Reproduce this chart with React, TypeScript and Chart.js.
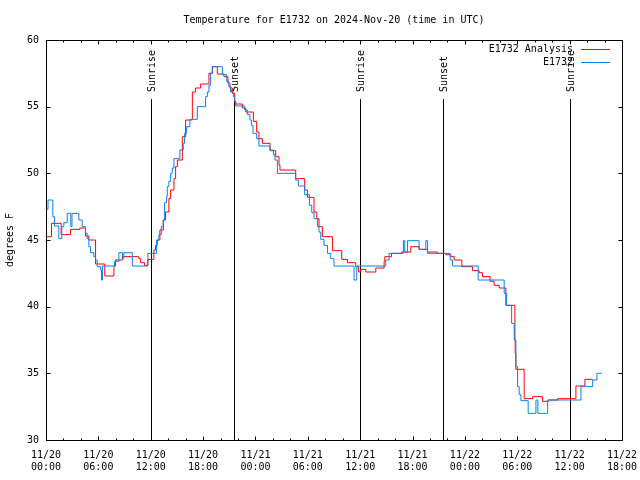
import React, { useEffect, useRef } from 'react';
import { Chart, registerables } from 'chart.js';

Chart.register(...registerables);

const TITLE = 'Temperature for E1732 on 2024-Nov-20 (time in UTC)';
const Y_TITLE = 'degrees F';
const SERIES_ANALYSIS = 'E1732 Analysis';
const SERIES_OBS = 'E1732';

// x tick labels (hours since 11/20 00:00 UTC, every 6 h)
const xTickDays = ['11/20', '11/20', '11/20', '11/20', '11/21', '11/21', '11/21', '11/21', '11/22', '11/22', '11/22', '11/22'];
const xTickTimes = ['00:00', '06:00', '12:00', '18:00', '00:00', '06:00', '12:00', '18:00', '00:00', '06:00', '12:00', '18:00'];
const yTicks = [30, 35, 40, 45, 50, 55, 60];

// sunrise / sunset markers (hours since 11/20 00:00 UTC)
const sunHours = [12.06, 21.54, 35.99, 45.47, 60.03];
const sunLabels = ['Sunrise', 'Sunset', 'Sunrise', 'Sunset', 'Sunrise'];

// Observations (E1732) — step start hour and temperature (F)
const obsHours = [0.06, 0.23, 0.78, 0.97, 1.47, 1.81, 2.04, 2.43, 2.84, 2.98, 3.76, 4.15, 4.53, 4.72, 4.91, 5.10, 5.48, 5.68, 5.87, 6.25, 6.36, 6.48, 7.86, 8.35, 8.77, 8.92, 9.89, 11.67, 12.67, 12.94, 13.21, 13.44, 13.59, 13.82, 13.90, 14.08, 14.28, 14.47, 14.66, 15.34, 15.73, 15.88, 16.11, 16.49, 17.34, 18.29, 18.49, 18.67, 18.86, 19.06, 20.21, 20.70, 20.96, 21.16, 21.47, 21.62, 21.73, 22.76, 23.07, 23.37, 23.53, 23.72, 24.14, 24.40, 25.67, 26.06, 26.24, 26.51, 28.61, 28.92, 29.64, 30.18, 30.45, 30.71, 31.10, 31.28, 31.48, 31.86, 32.25, 32.63, 33.00, 35.30, 35.61, 38.93, 39.31, 40.96, 41.11, 41.42, 42.75, 43.52, 43.72, 46.31, 46.58, 49.52, 52.50, 52.78, 53.35, 53.65, 53.84, 54.04, 54.22, 54.42, 55.25, 56.14, 56.36, 57.48, 61.30, 62.64, 63.13, 63.67];
const obsTemps = [47.3, 48.0, 46.75, 46.05, 45.1, 46.0, 46.3, 47.0, 46.0, 47.0, 46.5, 46.0, 45.5, 45.1, 44.5, 44.05, 43.75, 43.5, 43.0, 42.75, 42.0, 43.05, 43.4, 44.05, 43.6, 44.05, 43.05, 44.0, 45.0, 45.4, 46.0, 46.5, 47.8, 48.25, 49.0, 49.4, 50.0, 50.4, 51.1, 51.75, 52.25, 53.0, 53.5, 54.05, 55.0, 55.75, 56.1, 56.6, 57.5, 58.0, 57.4, 56.9, 56.5, 56.1, 55.75, 55.4, 55.05, 54.75, 54.4, 54.0, 53.6, 53.0, 52.6, 52.05, 51.75, 51.4, 51.0, 50.0, 49.5, 49.05, 48.4, 47.6, 47.05, 46.6, 46.0, 45.6, 45.05, 44.6, 44.0, 43.6, 43.05, 42.0, 43.05, 43.5, 44.0, 44.95, 44.1, 44.95, 44.3, 44.95, 44.0, 43.5, 43.05, 42.0, 41.0, 40.1, 38.75, 37.5, 35.5, 34.0, 33.4, 32.95, 32.0, 33.0, 32.0, 33.0, 34.0, 34.5, 35.0, 35.0];

// Analysis (E1732 Analysis) — step start hour and temperature (F)
const anaHours = [0.0, 0.63, 1.74, 2.81, 3.88, 4.53, 4.91, 5.68, 6.74, 7.78, 7.97, 8.74, 10.64, 10.84, 11.30, 11.67, 12.36, 12.56, 12.75, 13.05, 13.44, 13.70, 14.08, 14.28, 14.66, 14.85, 15.05, 15.62, 16.00, 16.77, 17.14, 17.72, 18.67, 19.06, 19.63, 20.39, 20.85, 21.08, 21.35, 21.62, 21.73, 22.50, 22.88, 23.76, 24.14, 24.40, 24.79, 25.67, 26.32, 26.70, 26.81, 28.61, 29.64, 29.95, 30.71, 31.02, 31.28, 31.67, 32.82, 33.89, 34.54, 35.49, 35.80, 36.07, 36.64, 37.79, 38.74, 38.82, 39.59, 40.73, 41.80, 42.75, 43.72, 44.86, 45.81, 46.39, 46.77, 47.65, 48.88, 49.63, 50.02, 50.89, 51.35, 51.93, 52.69, 53.73, 53.76, 53.84, 54.79, 55.76, 56.90, 57.55, 58.62, 60.72, 61.75, 62.64];
const anaTemps = [45.25, 46.25, 45.4, 45.8, 45.9, 45.3, 45.0, 43.2, 42.3, 43.05, 43.5, 43.75, 43.6, 43.3, 43.1, 43.55, 44.25, 44.6, 45.0, 45.75, 46.5, 47.1, 48.1, 48.75, 49.6, 50.5, 51.0, 52.75, 54.0, 56.1, 56.4, 56.7, 57.5, 58.0, 57.45, 57.25, 56.75, 56.4, 56.0, 55.4, 55.2, 54.9, 54.6, 53.9, 53.1, 52.6, 52.25, 51.7, 51.25, 50.6, 50.25, 49.6, 48.75, 48.2, 47.1, 46.6, 46.0, 45.25, 44.2, 43.55, 43.3, 43.0, 42.6, 42.8, 42.6, 42.9, 43.4, 43.75, 44.0, 44.1, 44.5, 44.3, 44.1, 44.0, 43.9, 43.75, 43.5, 43.0, 42.7, 42.55, 42.25, 41.9, 41.6, 41.4, 40.1, 37.6, 36.5, 35.3, 33.1, 33.25, 32.9, 33.0, 33.1, 34.05, 34.55, 34.55];

const RED = '#ff0000';
const BLUE = '#0a80f0';
const FONT = "'DejaVu Sans Mono', 'Liberation Mono', monospace";

const overlay = {
  id: 'gnuplotOverlay',
  beforeDatasetsDraw(chart: any) {
    const { ctx, chartArea: a, scales } = chart;
    const xs = scales.x;
    const ys = scales.y;
    ctx.save();
    ctx.strokeStyle = '#000';
    ctx.fillStyle = '#000';
    ctx.lineWidth = 1;
    const L = Math.round(a.left) + 0.5;
    const R = Math.round(a.right) + 0.5;
    const T = Math.round(a.top) + 0.5;
    const B = Math.round(a.bottom) + 0.5;

    // x ticks: major every 6 h, minor every 2 h (bottom and top, inward)
    for (let h = 0; h <= 66; h += 2) {
      const px = Math.round(xs.getPixelForValue(h)) + 0.5;
      const len = h % 6 === 0 ? 4 : 2;
      ctx.beginPath();
      ctx.moveTo(px, B); ctx.lineTo(px, B - len);
      ctx.moveTo(px, T); ctx.lineTo(px, T + len);
      ctx.stroke();
    }
    // y ticks (left and right, inward)
    yTicks.forEach((v) => {
      const py = Math.round(ys.getPixelForValue(v)) + 0.5;
      ctx.beginPath();
      ctx.moveTo(L, py); ctx.lineTo(L + 4, py);
      ctx.moveTo(R, py); ctx.lineTo(R - 4, py);
      ctx.stroke();
    });

    // sunrise / sunset lines and labels
    ctx.font = `10px ${FONT}`;
    sunHours.forEach((h, i) => {
      const px = Math.round(xs.getPixelForValue(h)) + 0.5;
      ctx.beginPath();
      ctx.moveTo(px, a.top + 59);
      ctx.lineTo(px, B);
      ctx.stroke();
      ctx.save();
      ctx.translate(px + 1, a.top + 52);
      ctx.rotate(-Math.PI / 2);
      ctx.textAlign = 'left';
      ctx.textBaseline = 'middle';
      ctx.fillText(sunLabels[i], 0, 0);
      ctx.restore();
    });

    // border
    ctx.strokeRect(L, T, R - L, B - T);

    // title
    ctx.textAlign = 'center';
    ctx.textBaseline = 'middle';
    ctx.fillText(TITLE, (a.left + a.right) / 2, 20);

    // y axis title
    ctx.save();
    ctx.translate(10, (a.top + a.bottom) / 2);
    ctx.rotate(-Math.PI / 2);
    ctx.textAlign = 'center';
    ctx.textBaseline = 'middle';
    ctx.fillText(Y_TITLE, 0, 0);
    ctx.restore();

    // legend
    ctx.textAlign = 'right';
    ctx.textBaseline = 'middle';
    const lx = a.right - 49;
    ctx.fillText(SERIES_ANALYSIS, lx, a.top + 9);
    ctx.fillText(SERIES_OBS, lx, a.top + 22);
    ctx.beginPath();
    ctx.strokeStyle = RED;
    ctx.moveTo(lx + 8, Math.round(a.top + 9) + 0.5);
    ctx.lineTo(lx + 37, Math.round(a.top + 9) + 0.5);
    ctx.stroke();
    ctx.beginPath();
    ctx.strokeStyle = BLUE;
    ctx.moveTo(lx + 8, Math.round(a.top + 22) + 0.5);
    ctx.lineTo(lx + 37, Math.round(a.top + 22) + 0.5);
    ctx.stroke();
    ctx.restore();
  },
};

export default function App() {
  const ref = useRef<HTMLCanvasElement | null>(null);
  useEffect(() => {
    if (!ref.current) return;
    const chart = new Chart(ref.current, {
      type: 'line',
      data: {
        datasets: [
          {
            label: SERIES_OBS,
            data: obsHours.map((h, i) => ({ x: h, y: obsTemps[i] })),
            borderColor: BLUE,
            borderWidth: 1,
            pointRadius: 0,
            stepped: 'before',
            fill: false,
            order: 0,
          },
          {
            label: SERIES_ANALYSIS,
            data: anaHours.map((h, i) => ({ x: h, y: anaTemps[i] })),
            borderColor: RED,
            borderWidth: 1,
            pointRadius: 0,
            stepped: 'before',
            fill: false,
            order: 1,
          },
        ],
      },
      options: {
        animation: false,
        responsive: false,
        devicePixelRatio: 1,
        layout: { padding: { top: 40, right: 18, left: 0, bottom: 0 } },
        plugins: {
          legend: { display: false },
          title: { display: false },
          tooltip: { enabled: false },
        },
        scales: {
          x: {
            type: 'linear',
            min: 0,
            max: 66,
            grid: { display: false, drawTicks: false },
            border: { display: false },
            afterFit: (s: any) => { s.height = 40; s.paddingLeft = 0; s.paddingRight = 0; },
            afterBuildTicks: (s: any) => {
              s.ticks = xTickDays.map((_, i) => ({ value: i * 6 }));
            },
            ticks: {
              autoSkip: false,
              maxRotation: 0,
              padding: 9,
              color: '#000',
              font: { family: FONT, size: 10, lineHeight: 1.2 },
              callback: (v: any) => {
                const i = Math.round(Number(v) / 6);
                return [xTickDays[i], xTickTimes[i]];
              },
            },
          },
          y: {
            type: 'linear',
            min: 30,
            max: 60,
            grid: { display: false, drawTicks: false },
            border: { display: false },
            afterFit: (s: any) => { s.width = 46; s.paddingTop = 0; s.paddingBottom = 0; },
            afterBuildTicks: (s: any) => {
              s.ticks = yTicks.map((v) => ({ value: v }));
            },
            ticks: {
              padding: 7,
              color: '#000',
              font: { family: FONT, size: 10 },
              callback: (v: any) => String(v),
            },
          },
        },
      },
      plugins: [overlay],
    });
    return () => chart.destroy();
  }, []);
  return (
    <div style={{ position: 'fixed', left: 0, top: 0, width: 640, height: 480, background: '#fff' }}>
      <canvas ref={ref} width={640} height={480} style={{ width: 640, height: 480 }} />
    </div>
  );
}
